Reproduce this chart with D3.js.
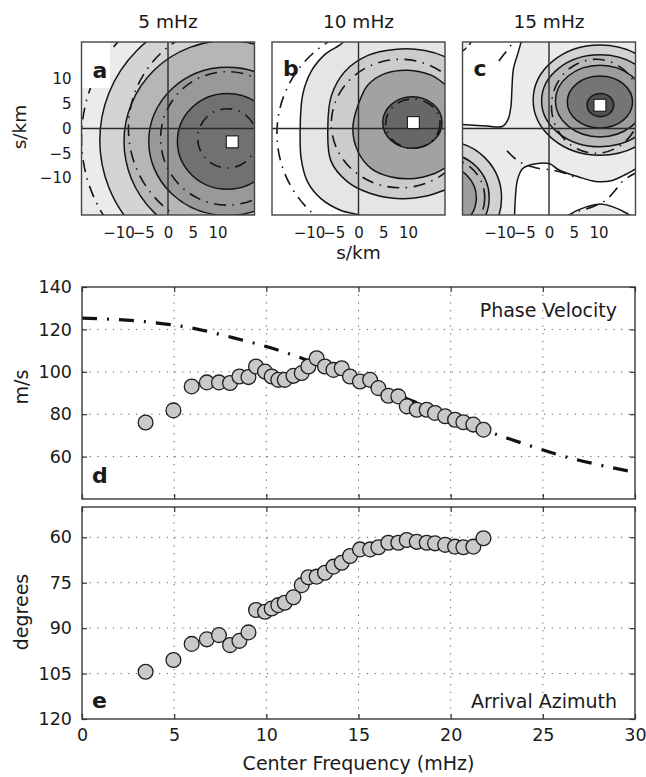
<!DOCTYPE html>
<html><head><meta charset="utf-8">
<script src="https://cdn.jsdelivr.net/npm/d3@7"></script>
<style>body{margin:0;background:#fff}</style>
</head><body>
<svg id="fig" width="646" height="777"></svg>
<script>
// ================= DATA =================
// Lower panels: centre frequency (mHz)
const freq = [3.45,4.96,5.95,6.77,7.43,8.03,8.54,9.03,9.44,9.93,10.29,10.65,11.0,11.47,11.92,12.28,12.73,13.18,
              13.64,14.09,14.54,15.08,15.63,16.08,16.62,17.16,17.62,18.16,18.7,19.15,19.7,20.24,20.69,21.23,21.78];
// phase velocity (m/s)
const phaseVel = [76.1,81.8,93.1,95.0,95.0,94.7,97.8,97.5,102.5,100.1,97.8,96.2,96.2,98.1,99.4,102.5,106.4,102.5,
                  100.9,101.7,97.8,95.4,96.2,92.3,88.7,88.4,83.7,82.1,82.1,80.6,79.0,77.4,76.2,75.1,72.7];
// arrival azimuth (degrees)
const azimuth = [104.4,100.5,95.2,93.7,92.3,95.6,94.2,91.4,84.0,84.6,83.5,82.4,81.6,79.8,75.8,73.2,73.0,71.7,
                 69.7,68.4,66.2,64.0,64.0,63.3,61.8,61.8,60.9,61.5,61.8,62.0,62.5,63.1,63.3,63.1,60.3];
// model phase-velocity curve (dash-dot)
const modelFreq = [0,2,4,6,8,10,12,14,16,18,20,22,24,26,28,30];
const modelVel  = [125.3,124.6,123.1,120.6,116.5,111.9,106.2,99.8,93,86,79,72,66,60.5,56.2,52.6];

const freqTicks = [0,5,10,15,20,25,30];
const velTicks = [60,80,100,120,140];
const azTicks = [60,75,90,105,120];
const slowTicks = [-10,-5,0,5,10];

// Top panels: slowness-plane (s/km) beam-power contours
// ellipse rings: [cx, cy, rx, ry]; levels: relative power of each filled band
const ringsA  = [[12,-2.4,25.8,25.8],[12,-2.6,20.9,20.4],[12,-2.6,15.9,15.0],[12,-2.6,10.1,9.7]];
const levelsA = [0.22,0.37,0.52,0.72];
const peakA = [13.0,-2.7];
const dashA = [[12,-2,6,6],[12,-2,13.5,13.5],[13,0,21,21],[12,-2,29.5,29.5]];

const contourB4 = [[-2.5,19],[-3.2,17.4],[-6.9,14.9],[-9.6,11.5],[-11.3,6.8],[-11.8,0],[-11.6,-6.1],[-10.3,-10.8],
                   [-7.6,-14.2],[-3.5,-16.6],[0.5,-17.6],[3,-19]];
const contourB3 = [[19,13.5],[17.3,14.6],[13.4,15.8],[7.3,16.0],[1.9,14.8],[-2.8,11.5],[-5.5,6.6],[-6.2,0.5],
                   [-5.6,-6.5],[-2.2,-10.8],[2.6,-13.2],[8.6,-14.2],[14,-13.6],[17.3,-12.5],[19,-11.8]];
const contourB2 = [[19.5,7.5],[17.3,9.1],[14.7,10.8],[10,11.8],[5.3,11.1],[1.9,8.8],[-0.1,4.7],[-1.15,0],
                   [-0.1,-4.7],[2.6,-8.1],[6.6,-9.8],[11.4,-10.1],[15.4,-9.1],[17.3,-8.1],[19.5,-6.5]];
const ringB1 = [10.9,1.2,6.0,5.2];
const levelsB = [0.13,0.26,0.47,0.77];
const peakB = [11.1,1.2];
const dashB = [[11,1,5.5,5],[8.5,1,14,13],[6,-1,22.5,22]];

const whiteC1 = [[-5.3,18.8],[-6.2,15.5],[-7.2,12],[-7.5,8],[-7.7,4.5],[-8.3,1.8],[-9.5,0.4],[-12.5,0.5],[-18.8,0.9]];
const cornerC = [[-15.3,18.8],[-16.2,16.8],[-18.8,14.8]];
const whiteC2 = [[-7,-18.8],[-6.8,-14],[-6.4,-10.5],[-5.4,-8.2],[-3.5,-7.3],[0,-7.1],[2,-8.4],[6,-9.8],[9.4,-10.7],
                 [12.8,-10.5],[15.5,-9.3],[17.5,-8.2],[18.8,-7.5]];
const humpC = [[2.5,-18.8],[4.5,-17.2],[7.4,-15.9],[10.1,-15.3],[12.8,-15.8],[15.8,-17.2],[18,-18.8]];
const blobC = [[-21,-14,11.4,11.4],[-21,-14,8.9,8.9],[-21,-14,6.3,6.3]];
const blobLevelsC = [0.23,0.36,0.5];
const ringsC = [[10.3,5.75,13.5,11.15],[10.3,5.6,11.8,9.3],[10.3,5.55,9.0,7.25],[10.3,5.35,6.6,5.25],[10.4,4.75,2.7,2.35]];
const levelsC = [0.23,0.36,0.5,0.7,0.89];
const peakC = [10.3,4.7];
const dashC = [[9.5,4.5,9,9.5],[-21,-14,8,8]];
const dashPathsC = [
  [[-13.5,9.5],[-11.6,11.8],[-9.5,14.5],[-7.6,17],[-6.5,18.8]],
  [[-8.5,-4.5],[-5.9,-6.8],[-2.5,-8],[0.6,-8.4],[3.3,-9.1],[6,-10.2]],
  [[3,-19],[5.7,-16.9],[8.7,-15.9],[11.5,-14.5],[13.4,-12.5],[15.1,-10.5],[17.5,-9]]
];

// ================= DRAWING =================
const svg = d3.select('#fig');
const FONT = '"DejaVu Sans","Liberation Sans",Arial,sans-serif';
const TXT = '#1a1a1a';
const LINE = '#151515';
const gray = d3.scaleLinear().domain([0,1]).range(['#ffffff','#3a3a3a']);

const TOP_Y = 42, TOP_SIZE = 173;
const S_DOMAIN = [-17.5,17.5];

function txt(g, x, y, s, size, anchor, opts={}) {
  const t = g.append('text').attr('x',x).attr('y',y).text(s)
    .attr('font-family',FONT).attr('font-size',size).attr('fill',TXT)
    .attr('text-anchor',anchor||'start');
  if (opts.bold) t.attr('font-weight','bold');
  if (opts.rotate) t.attr('transform',`rotate(-90,${x},${y})`);
  return t;
}

function drawTop(cfg) {
  const g = svg.append('g').attr('transform',`translate(${cfg.x0},${TOP_Y})`);
  const xs = d3.scaleLinear().domain(S_DOMAIN).range([0,TOP_SIZE]);
  const ys = d3.scaleLinear().domain(S_DOMAIN).range([TOP_SIZE,0]);
  const clipId = 'clip-'+cfg.id;
  g.append('clipPath').attr('id',clipId).append('rect').attr('width',TOP_SIZE).attr('height',TOP_SIZE);
  const body = g.append('g').attr('clip-path',`url(#${clipId})`);
  body.append('rect').attr('width',TOP_SIZE).attr('height',TOP_SIZE).attr('fill',gray(cfg.bg));
  const smooth = d3.line().x(d=>xs(d[0])).y(d=>ys(d[1])).curve(d3.curveCatmullRom.alpha(0.5));

  cfg.shapes.forEach(sh => {
    if (sh.ell) {
      const [cx,cy,rx,ry] = sh.ell;
      body.append('ellipse').attr('cx',xs(cx)).attr('cy',ys(cy))
        .attr('rx',xs(cx+rx)-xs(cx)).attr('ry',ys(cy)-ys(cy+ry))
        .attr('fill',gray(sh.level)).attr('stroke',LINE).attr('stroke-width',1.5);
    } else {
      const open = smooth(sh.pts);
      const closed = open + (sh.close||[]).map(p=>`L${xs(p[0])},${ys(p[1])}`).join('') + 'Z';
      body.append('path').attr('d',closed).attr('fill',gray(sh.level));
      body.append('path').attr('d',open).attr('fill','none').attr('stroke',LINE).attr('stroke-width',1.5);
    }
  });

  // dash-dot contours
  const dd = '12,6.5,1.5,6.5';
  (cfg.dash||[]).forEach(([cx,cy,rx,ry]) => {
    body.append('ellipse').attr('cx',xs(cx)).attr('cy',ys(cy))
      .attr('rx',xs(cx+rx)-xs(cx)).attr('ry',ys(cy)-ys(cy+ry))
      .attr('fill','none').attr('stroke',LINE).attr('stroke-width',1.6).attr('stroke-dasharray',dd);
  });
  (cfg.dashPaths||[]).forEach(p => {
    body.append('path').attr('d',smooth(p)).attr('fill','none')
      .attr('stroke',LINE).attr('stroke-width',1.6).attr('stroke-dasharray',dd);
  });

  // crosshair at zero slowness
  body.append('line').attr('x1',xs(0)).attr('x2',xs(0)).attr('y1',0).attr('y2',TOP_SIZE)
    .attr('stroke','#2a2a2a').attr('stroke-width',1.4);
  body.append('line').attr('y1',ys(0)).attr('y2',ys(0)).attr('x1',0).attr('x2',TOP_SIZE)
    .attr('stroke','#2a2a2a').attr('stroke-width',1.4);

  // peak marker
  const ms = 12;
  body.append('rect').attr('x',xs(cfg.peak[0])-ms/2).attr('y',ys(cfg.peak[1])-ms/2)
    .attr('width',ms).attr('height',ms).attr('fill','#fff').attr('stroke','#222').attr('stroke-width',1.2);

  // label box + letter
  if (cfg.box) body.append('rect').attr('x',cfg.box[0]).attr('y',cfg.box[1])
    .attr('width',cfg.box[2]).attr('height',cfg.box[3]).attr('fill','#fff');
  txt(g, 11, cfg.labelY, cfg.id, 22, 'start', {bold:true});

  // frame
  g.append('rect').attr('width',TOP_SIZE).attr('height',TOP_SIZE).attr('fill','none')
    .attr('stroke','#444').attr('stroke-width',1.4);

  // axes labels
  const ax = g.append('g').attr('transform',`translate(0,${TOP_SIZE})`)
    .call(d3.axisBottom(xs).tickValues(slowTicks).tickSize(0).tickPadding(12)
      .tickFormat(d=>d<0?'\u2212'+Math.abs(d):d));
  ax.select('.domain').remove();
  ax.selectAll('text').attr('font-family',FONT).attr('font-size',15).attr('fill',TXT);
  if (cfg.yAxis) {
    const ay = g.append('g').call(d3.axisLeft(ys).tickValues(slowTicks).tickSize(0).tickPadding(10)
      .tickFormat(d=>d<0?'\u2212'+Math.abs(d):d));
    ay.select('.domain').remove();
    ay.selectAll('text').attr('font-family',FONT).attr('font-size',15).attr('fill',TXT);
  }
  txt(g, TOP_SIZE/2, -14, cfg.title, 18.5, 'middle');
}

const shapesA = ringsA.map((e,i)=>({ell:e, level:levelsA[i]}));
const shapesB = [
  {pts:contourB4, close:[[22,-19],[22,19]], level:levelsB[0]},
  {pts:contourB3, close:[[22,-11.8],[22,13.5]], level:levelsB[1]},
  {pts:contourB2, close:[[22,-6.5],[22,7.5]], level:levelsB[2]},
  {ell:ringB1, level:levelsB[3]}
];
const shapesC = [
  {pts:whiteC1, close:[[-18.8,18.8]], level:0},
  {pts:cornerC, close:[[-18.8,18.8]], level:0.1},
  {pts:whiteC2, close:[[18.8,-18.8]], level:0},
  {pts:humpC, close:[], level:0.1},
  ...blobC.map((e,i)=>({ell:e, level:blobLevelsC[i]})),
  ...ringsC.map((e,i)=>({ell:e, level:levelsC[i]}))
];

drawTop({id:'a', title:'5 mHz', x0:81.5, bg:0.1, shapes:shapesA, dash:dashA, peak:peakA,
         box:[0,0,28.5,46], labelY:36, yAxis:true});
drawTop({id:'b', title:'10 mHz', x0:272, bg:0, shapes:shapesB, dash:dashB, peak:peakB, labelY:34});
drawTop({id:'c', title:'15 mHz', x0:462.5, bg:0.1, shapes:shapesC, dash:dashC, dashPaths:dashPathsC, peak:peakC,
         box:[4,3,31,37], labelY:34});

txt(svg, 26, 127, 's/km', 18.5, 'middle', {rotate:true});
txt(svg, 358.5, 259, 's/km', 18.5, 'middle');

// ---------- lower panels ----------
const X0 = 82, X1 = 635;
const fx = d3.scaleLinear().domain([0,30]).range([X0,X1]);
const D_TOP = 287, D_BOT = 499, E_TOP = 507, E_BOT = 719;
const vy = d3.scaleLinear().domain([40,140]).range([D_BOT,D_TOP]);
const azy = d3.scaleLinear().domain([50,120]).range([E_TOP,E_BOT]);

function lowerPanel(yScale, yTicks, top, bot, opts) {
  const g = svg.append('g');
  const clipId = 'clip-'+opts.id;
  g.append('clipPath').attr('id',clipId).append('rect')
    .attr('x',X0).attr('y',top).attr('width',X1-X0).attr('height',bot-top);
  // grid
  const grid = g.append('g').attr('stroke','#5a5a5a').attr('stroke-width',1).attr('stroke-dasharray','1.2,6.5');
  freqTicks.filter(t=>t>0&&t<30).forEach(t=>{
    grid.append('line').attr('x1',fx(t)).attr('x2',fx(t)).attr('y1',top).attr('y2',bot);
  });
  yTicks.forEach(t=>{
    const yy = yScale(t);
    if (yy>top+1 && yy<bot-1) grid.append('line').attr('x1',X0).attr('x2',X1).attr('y1',yy).attr('y2',yy);
  });
  const body = g.append('g').attr('clip-path',`url(#${clipId})`);
  if (opts.model) {
    const ln = d3.line().x((d,i)=>fx(modelFreq[i])).y(d=>yScale(d)).curve(d3.curveMonotoneX);
    body.append('path').attr('d',ln(modelVel)).attr('fill','none').attr('stroke','#111')
      .attr('stroke-width',3.2).attr('stroke-dasharray','15,10,2,10');
  }
  body.selectAll('circle.pt').data(opts.values).join('circle').attr('class','pt')
    .attr('cx',(d,i)=>fx(freq[i])).attr('cy',d=>yScale(d)).attr('r',7.4)
    .attr('fill','#c9c9c9').attr('stroke','#1e1e1e').attr('stroke-width',1.3);
  // frame
  g.append('rect').attr('x',X0).attr('y',top).attr('width',X1-X0).attr('height',bot-top)
    .attr('fill','none').attr('stroke','#444').attr('stroke-width',1.5);
  const style = sel => { sel.select('.domain').remove();
    sel.selectAll('line').attr('stroke','#333').attr('stroke-width',1.2);
    sel.selectAll('text').attr('font-family',FONT).attr('font-size',17.5).attr('fill',TXT); };
  g.append('g').attr('transform',`translate(${X0},0)`)
    .call(d3.axisLeft(yScale).tickValues(yTicks).tickSize(-5).tickPadding(10)).call(style);
  g.append('g').attr('transform',`translate(${X1},0)`)
    .call(d3.axisRight(yScale).tickValues(yTicks).tickSize(-5).tickFormat('')).call(style);
  g.append('g').attr('transform',`translate(0,${top})`)
    .call(d3.axisTop(fx).tickValues(freqTicks).tickSize(-5).tickFormat('')).call(style);
  g.append('g').attr('transform',`translate(0,${bot})`)
    .call(d3.axisBottom(fx).tickValues(freqTicks).tickSize(-5).tickPadding(10)
      .tickFormat(opts.xLabels ? d3.format('d') : '')).call(style);
  txt(g, 92, opts.letterY, opts.id, 22, 'start', {bold:true});
  txt(g, 617, opts.nameY, opts.name, 19, 'end');
}

lowerPanel(vy, velTicks, D_TOP, D_BOT, {id:'d', values:phaseVel, model:true, letterY:483,
  name:'Phase Velocity', nameY:317});
lowerPanel(azy, azTicks, E_TOP, E_BOT, {id:'e', values:azimuth, xLabels:true, letterY:708,
  name:'Arrival Azimuth', nameY:708});

txt(svg, 28, 387, 'm/s', 19, 'middle', {rotate:true});
txt(svg, 28, 612, 'degrees', 19, 'middle', {rotate:true});
txt(svg, 358.5, 770, 'Center Frequency (mHz)', 19, 'middle');
</script>
</body></html>
